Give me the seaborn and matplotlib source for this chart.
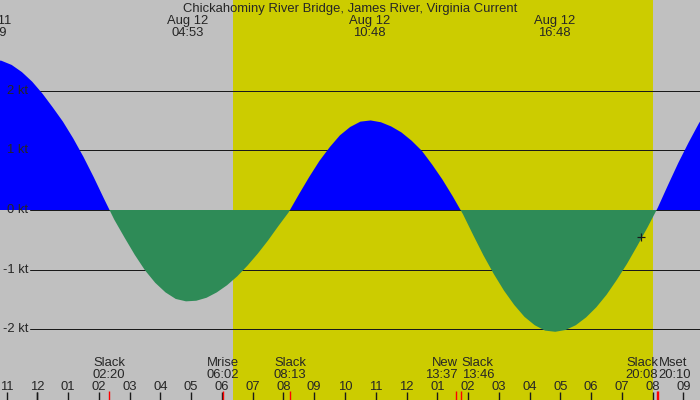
import numpy as np
import matplotlib
matplotlib.use('Agg')
import matplotlib.pyplot as plt
import seaborn as sns

station='Chickahominy River Bridge, James River, Virginia Current'

# current speed (kt), every 20 minutes starting Aug 11 22:30
start_hour=-1.5
step_hours=1/3
speed=[2.52,2.50,2.43,2.31,2.15,1.95,1.72,1.48,1.20,0.89,0.55,0.19,
       -0.16,-0.46,-0.75,-1.01,-1.22,-1.38,-1.49,-1.53,
       -1.52,-1.47,-1.38,-1.26,-1.11,-0.93,-0.73,-0.51,-0.27,-0.04,
       0.26,0.55,0.82,1.05,1.25,1.39,1.48,1.50,
       1.47,1.40,1.30,1.16,0.99,0.76,0.51,0.23,
       -0.07,-0.42,-0.76,-1.07,-1.35,-1.59,-1.79,-1.93,-2.02,
       -2.04,-2.01,-1.93,-1.80,-1.63,-1.42,-1.17,-0.90,-0.60,-0.29,
       0.04,0.42,0.79,1.13,1.45,1.73]

# max flood / max ebb labels at the top
peak_days=['Aug 11','Aug 12','Aug 12','Aug 12']
peak_times=['22:29','04:53','10:48','16:48']

# events along the bottom
event_names=['Slack','Mrise','Slack','New','Slack','Slack','Mset']
event_times=['02:20','06:02','08:13','13:37','13:46','20:08','20:10']

sunrise='06:22'
sunset='20:01'
now_time='19:37'
now_speed=-0.46

kt_levels=[2,1,0,-1,-2]

def tohours(s,day='Aug 12'):
    hh,mm=s.split(':')
    h=int(hh)+int(mm)/60.0
    if day=='Aug 11': h-=24
    return h

sns.set_theme(style='white')
plt.rcParams['font.family']=['Liberation Sans','DejaVu Sans']
fs=9.4
gray='#c0c0c0' ; yellow='#cccc00' ; px=0.72

fig=plt.figure(figsize=(7,4),dpi=100,facecolor=gray)
ax=fig.add_axes([0,0,1,1]) ; ax.set_axis_off()
x0=-37.3/30.77 ; x1=(700-37.3)/30.77
ax.set_xlim(x0,x1)
ax.set_ylim(-190/59.7,210/59.7)

ax.axvspan(tohours(sunrise),tohours(sunset),color=yellow,lw=0,zorder=0)
for lev in kt_levels:
    ax.axhline(lev,xmin=30/700,xmax=1,color='k',lw=px,zorder=1 if lev!=0 else 2.5)
    ax.text(28/700,lev,'%d kt'%lev,transform=ax.get_yaxis_transform(),ha='right',va='center',fontsize=fs,zorder=5)

v=np.array(speed)
hrs=start_hour+np.arange(len(v))*step_hours
ax.fill_between(hrs,0,v,where=v>=0,interpolate=True,color='#0000ff',lw=0,zorder=2)
ax.fill_between(hrs,0,v,where=v<=0,interpolate=True,color='#2e8b57',lw=0,zorder=3)
ax.plot([tohours(now_time)],[now_speed],marker='+',ms=6,mew=px*1.2,color='k',zorder=6)

tr=ax.get_xaxis_transform()
dy=2
ax.text(0.5,1-(7+dy)/400,station,transform=ax.transAxes,ha='center',va='center',fontsize=fs)
for d,t in zip(peak_days,peak_times):
    h=tohours(t,d)
    ax.text(h,1-(19+dy)/400,d,transform=tr,ha='center',va='center',fontsize=fs,clip_on=False)
    ax.text(h,1-(31+dy)/400,t,transform=tr,ha='center',va='center',fontsize=fs,clip_on=False)

eh=[tohours(t) for t in event_times]
for i,(n,t) in enumerate(zip(event_names,event_times)):
    ha='center' ; dx=0
    if i+1<len(eh) and eh[i+1]-eh[i]<0.3: ha='right' ; dx=0.05
    if i>0 and eh[i]-eh[i-1]<0.3: ha='left' ; dx=0.02
    ax.text(eh[i]+dx,1-(361+dy)/400,n,transform=tr,ha=ha,va='center',fontsize=fs)
    ax.text(eh[i]+dx,1-(373+dy)/400,t,transform=tr,ha=ha,va='center',fontsize=fs)

hours=list(range(-1,22))
for h in hours:
    ax.text(h,1-(385+dy)/400,'%02d'%((h-1)%12+1),transform=tr,ha='center',va='center',fontsize=fs)
sns.rugplot(x=hours,height=8/400,color='k',lw=px,ax=ax,expand_margins=False)
sns.rugplot(x=[0],height=8/400,color='k',lw=3*px,ax=ax,expand_margins=False)
sns.rugplot(x=eh,height=9/400,color='#ff0000',lw=px,ax=ax,expand_margins=False)

plt.savefig('out.png',dpi=100,facecolor=gray)
plt.close()
